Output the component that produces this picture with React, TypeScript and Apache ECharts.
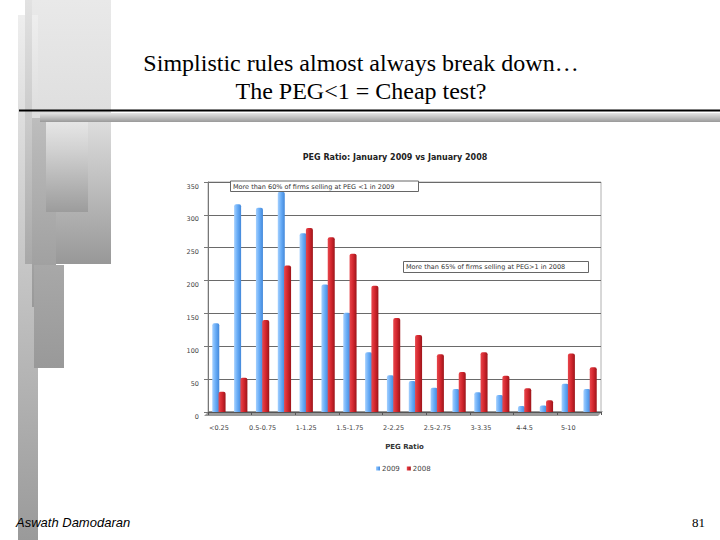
import React, { useEffect, useRef } from "react";
import * as echarts from "echarts";

const categories = [
  "<0.25", "0.25-0.5", "0.5-0.75", "0.75-1", "1-1.25", "1.25-1.5",
  "1.5-1.75", "1.75-2", "2-2.25", "2.25-2.5", "2.5-2.75", "2.75-3",
  "3-3.35", "3.5-4", "4-4.5", "4.5-5", "5-10", ">10",
];
const values2009 = [135, 316, 311, 335, 272, 194, 151, 91, 56, 47, 37, 35, 30, 26, 9, 10, 43, 35];
const values2008 = [31, 52, 140, 223, 280, 266, 241, 192, 143, 117, 88, 61, 91, 55, 36, 18, 89, 68];
const seriesNames = ["2009", "2008"];
const yTicks = { min: 0, max: 350, interval: 50 };
const chartTitle = "PEG Ratio: January 2009 vs January 2008";
const xAxisTitle = "PEG Ratio";
const note1 = "More than 60% of firms selling at PEG <1 in 2009";
const note2 = "More than 65% of firms selling at PEG>1 in 2008";
const slideTitle1 = "Simplistic rules almost always break down\u2026";
const slideTitle2 = "The PEG<1 = Cheap test?";
const footerLeft = "Aswath Damodaran";
const footerRight = "81";

const vgrad = (stops: [number, string][]) =>
  new echarts.graphic.LinearGradient(0, 0, 0, 1, stops.map(([offset, color]) => ({ offset, color })));
const hgrad = (stops: [number, string][]) =>
  new echarts.graphic.LinearGradient(0, 0, 1, 0, stops.map(([offset, color]) => ({ offset, color })));

export default function App() {
  const ref = useRef<HTMLDivElement>(null);
  useEffect(() => {
    if (!ref.current) return;
    const chart = echarts.init(ref.current, null, { renderer: "svg" });
    const smallFont = "DejaVu Sans, Verdana, sans-serif";
    chart.setOption({
      animation: false,
      backgroundColor: "#ffffff",
      grid: {
        left: 208,
        right: 119,
        top: 182,
        bottom: 128,
        show: true,
        borderColor: "#b0b0b0",
        borderWidth: 1,
      },
      legend: {
        data: seriesNames,
        left: 371,
        top: 460,
        icon: "rect",
        itemWidth: 4,
        itemHeight: 4,
        itemGap: 7,
        textStyle: { fontSize: 7, color: "#444", fontFamily: smallFont, padding: [0, 0, 0, -3] },
      },
      xAxis: {
        type: "category",
        data: categories,
        name: xAxisTitle,
        nameLocation: "middle",
        nameGap: 31,
        nameTextStyle: { fontSize: 7, fontWeight: "bold", color: "#333", fontFamily: smallFont },
        axisLine: { lineStyle: { color: "#555" } },
        axisTick: { show: true, length: 3, lineStyle: { color: "#555" } },
        axisLabel: { interval: 1, fontSize: 6.5, color: "#444", fontFamily: smallFont, margin: 12 },
      },
      yAxis: {
        type: "value",
        min: yTicks.min,
        max: yTicks.max,
        interval: yTicks.interval,
        axisLine: { show: true, lineStyle: { color: "#777" } },
        axisTick: { show: true, length: 4, lineStyle: { color: "#777" } },
        axisLabel: {
          fontSize: 6.5, color: "#444", fontFamily: smallFont, margin: 9,
          verticalAlign: "top", padding: [1, 0, 0, 0],
        },
        splitLine: { lineStyle: { color: "#6a6a6a", width: 1 } },
      },
      series: [
        {
          name: seriesNames[0],
          type: "bar",
          data: values2009,
          barWidth: 7,
          barGap: "-10%",
          itemStyle: {
            color: hgrad([[0, "#a4d0ff"], [0.5, "#66abf6"], [1, "#4388da"]]),
            borderRadius: [2, 2, 0, 0],
          },
        },
        {
          name: seriesNames[1],
          type: "bar",
          data: values2008,
          barWidth: 7,
          itemStyle: {
            color: hgrad([[0, "#e8474c"], [0.5, "#d3262e"], [1, "#9c151a"]]),
            borderRadius: [2, 2, 0, 0],
          },
        },
      ],
      graphic: [
        // left decorative bars
        { type: "rect", z: -10, shape: { x: 25, y: 0, width: 86, height: 264 },
          style: { fill: vgrad([[0, "#e9e9e9"], [0.45, "#dedede"], [1, "#989898"]]) } },
        { type: "rect", z: -9, shape: { x: 18, y: 15, width: 20, height: 525 },
          style: { fill: vgrad([[0, "#eeeeee"], [0.5, "#c4c4c4"], [1, "#9a9a9a"]]) } },
        { type: "rect", z: -9, shape: { x: 25, y: 0, width: 7, height: 264 },
          style: { fill: vgrad([[0, "#e2e2e2"], [0.5, "#c8c8c8"], [1, "#a8a8a8"]]) } },
        { type: "rect", z: -8, shape: { x: 32, y: 118, width: 24, height: 189 },
          style: { fill: vgrad([[0, "#bdbdbd"], [1, "#999999"]]) } },
        { type: "rect", z: -7, shape: { x: 46, y: 122, width: 42, height: 90 },
          style: { fill: vgrad([[0, "#e6e6e6"], [0.3, "#d2d2d2"], [1, "#9c9c9c"]]) } },
        { type: "rect", z: -7, shape: { x: 34, y: 265, width: 30, height: 103 },
          style: { fill: vgrad([[0, "#a8a8a8"], [1, "#999999"]]) } },
        // horizontal rules
        { type: "rect", z: -6, shape: { x: 40, y: 113, width: 680, height: 9 },
          style: { fill: vgrad([[0, "#e4e4e4"], [0.5, "#c0c0c0"], [1, "#999999"]]) } },
        { type: "line", z: -5, shape: { x1: 19, y1: 110.5, x2: 720, y2: 110.5 },
          style: { stroke: "#000000", lineWidth: 2 } },
        // slide titles
        { type: "text", x: 361, y: 63,
          style: { text: slideTitle1, font: "24px 'Liberation Serif', 'Times New Roman', serif", fill: "#000", align: "center", verticalAlign: "middle" } },
        { type: "text", x: 361, y: 91,
          style: { text: slideTitle2, font: "24px 'Liberation Serif', 'Times New Roman', serif", fill: "#000", align: "center", verticalAlign: "middle" } },
        // chart title
        { type: "text", x: 395, y: 157,
          style: { text: chartTitle, font: "bold 8px 'DejaVu Sans', Verdana, sans-serif", fill: "#222", align: "center", verticalAlign: "middle" } },
        // floor
        { type: "polygon", z: 0, shape: { points: [[204, 416], [598, 416], [603, 411], [209, 411]] },
          style: { fill: "#9a9a9a" } },
        // notes
        { type: "rect", z: 10, shape: { x: 230.5, y: 181, width: 188, height: 10.5 },
          style: { fill: "#fff", stroke: "#666", lineWidth: 1 } },
        { type: "text", z: 11, x: 233, y: 186.5,
          style: { text: note1, font: "6.5px 'DejaVu Sans', Verdana, sans-serif", fill: "#333", verticalAlign: "middle" } },
        { type: "rect", z: 10, shape: { x: 403.5, y: 261.5, width: 185, height: 11 },
          style: { fill: "#fff", stroke: "#666", lineWidth: 1 } },
        { type: "text", z: 11, x: 406, y: 267,
          style: { text: note2, font: "6.5px 'DejaVu Sans', Verdana, sans-serif", fill: "#333", verticalAlign: "middle" } },
        // footer
        { type: "text", x: 16, y: 522,
          style: { text: footerLeft, font: "italic 13px 'Liberation Sans', Arial, sans-serif", fill: "#000", verticalAlign: "middle" } },
        { type: "text", x: 705, y: 522,
          style: { text: footerRight, font: "13px 'Liberation Serif', 'Times New Roman', serif", fill: "#000", align: "right", verticalAlign: "middle" } },
      ],
    });
    return () => chart.dispose();
  }, []);
  return (
    <div
      ref={ref}
      style={{ position: "fixed", left: 0, top: 0, width: 720, height: 540, background: "#fff" }}
    />
  );
}
